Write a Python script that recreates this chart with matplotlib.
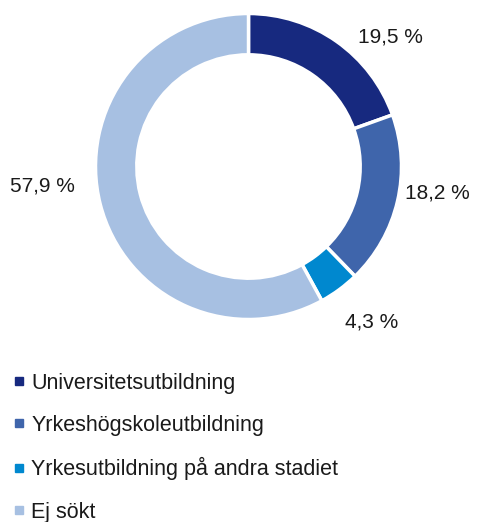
import matplotlib
matplotlib.use('Agg')
import matplotlib.pyplot as plt
from matplotlib.lines import Line2D

# data
categories = ['Universitetsutbildning', 'Yrkeshögskoleutbildning',
              'Yrkesutbildning på andra stadiet', 'Ej sökt']
shares = [19.5, 18.2, 4.3, 57.9]
value_labels = ['19,5 %', '18,2 %', '4,3 %', '57,9 %']
colors = ['#17297f', '#3f65ab', '#0088cf', '#a7c0e2']

# label spots in pie units (radius = 1)
label_pos = [(0.925, 0.846), (1.232, -0.173), (0.807, -1.016), (-1.350, -0.127)]

plt.rcParams['font.family'] = ['Liberation Sans', 'DejaVu Sans']

fig = plt.figure(figsize=(4.85, 5.22), dpi=100)
W, H = 485, 522
cx, cy, r = 248.5, 166.5, 153
ax = fig.add_axes([(cx - r) / W, 1 - (cy + r) / H, 2 * r / W, 2 * r / H])

wedges, _ = ax.pie(shares, colors=colors, startangle=90, counterclock=False,
                   radius=1.0, wedgeprops=dict(width=0.27, edgecolor='white', linewidth=2.5))
ax.set_xlim(-1, 1)
ax.set_ylim(-1, 1)
ax.set_aspect('equal')
ax.axis('off')

for (x, y), txt in zip(label_pos, value_labels):
    ax.text(x, y, txt, ha='center', va='center', fontsize=15, color='#1a1a1a', clip_on=False)

handles = [Line2D([], [], marker='s', linestyle='none', markersize=6,
                  markerfacecolor=c, markeredgecolor=c) for c in colors]
fig.legend(handles, categories, loc='upper left', bbox_to_anchor=(0.0, 1 - 364 / H),
           frameon=False, fontsize=15.5, labelspacing=0.99, handletextpad=0.05,
           handlelength=1.0, borderaxespad=0, labelcolor='#1a1a1a')

fig.savefig('out.png', dpi=100)
